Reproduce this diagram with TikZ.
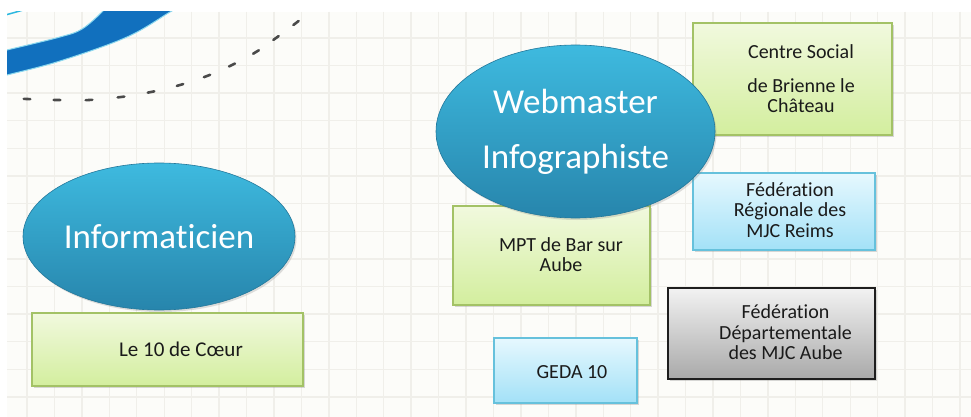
\documentclass[tikz,border=0pt]{standalone}
\usepackage{fontspec}
\setmainfont{Carlito}[Ligatures=NoCommon]
\usetikzlibrary{shapes.geometric,shadows}
\definecolor{bgc}{HTML}{FCFCF9}
\definecolor{gridc}{HTML}{F0EFEA}
\definecolor{bandc}{HTML}{1170BE}
\definecolor{cyanline}{HTML}{2DB8E0}
\definecolor{dashc}{HTML}{4A4A4A}
\definecolor{elltop}{HTML}{3EBADF}
\definecolor{ellbot}{HTML}{2785AC}
\definecolor{gtop}{HTML}{F1F9DE}
\definecolor{gbot}{HTML}{D3EE9E}
\definecolor{gborder}{HTML}{A3C266}
\definecolor{btop}{HTML}{E6F8FE}
\definecolor{bbot}{HTML}{A3E1F7}
\definecolor{bborder}{HTML}{66C1DC}
\definecolor{ytop}{HTML}{F2F2F2}
\definecolor{ybot}{HTML}{A9A9A9}
\definecolor{yborder}{HTML}{1E1E1E}
\definecolor{txtc}{HTML}{1A1A1A}
\tikzset{
  gridline/.style={gridc, line width=1.4pt},
  dashmark/.style={dashc, line width=2.6pt, line cap=round},
  bubble/.style={ellipse, inner sep=0pt, top color=elltop, bottom color=ellbot,
    draw=ellbot!90!black, line width=0.6pt, text=white,
    drop shadow={shadow xshift=1.5pt, shadow yshift=-2pt, opacity=0.25}},
  boxbase/.style={rectangle, inner sep=0pt, line width=1.1pt,
    drop shadow={shadow xshift=2pt, shadow yshift=-2pt, opacity=0.3}},
  greenbox/.style={boxbase, top color=gtop, bottom color=gbot, draw=gborder},
  bluebox/.style={boxbase, top color=btop, bottom color=bbot, draw=bborder},
  greybox/.style={boxbase, top color=ytop, bottom color=ybot, draw=yborder, line width=1.6pt},
  boxtext/.style={inner sep=0pt, align=center, text=txtc, font=\fontsize{20}{20.5}\selectfont},
}
\begin{document}
\begin{tikzpicture}[x=1pt,y=-1pt]
\useasboundingbox (0,0) rectangle (971,417);
\fill[white] (0,0) rectangle (971,417);
\fill[bgc] (7,12) rectangle (971,417);
\foreach \i in {0,...,34} \draw[gridline] ({27+27.44*\i},12) -- ({27+27.44*\i},417);
\foreach \j in {0,...,13} \draw[gridline] (7,{38+27.6*\j}) -- (971,{38+27.6*\j});
\begin{scope}
  \clip (7,12) rectangle (971,417);
  \draw[cyanline, line width=1.5pt] (-5,18) .. controls (5,15) and (15,12.5) .. (30,8);
  \fill[bandc, draw=cyanline!55, line width=1pt]
    plot[smooth, tension=0.6] coordinates {(-5,53) (7,50) (60,37) (82,29) (102,12) (110,2)}
    -- plot[smooth, tension=0.6] coordinates {(188,2) (170,12) (127,37) (60,61) (7,75) (-5,78)} -- cycle;
\end{scope}
\foreach \x/\y/\a in {27/99/2, 57/100/1, 89/100/-3, 121/97/-7, 151/92/-11.5, 180/85/-16, 207/76/-21, 232/65/-26, 256/52/-31.5, 276/38/-36, 296/23/-37}
  \draw[dashmark] (\x,\y) ++(\a:-3.3) -- ++(\a:6.6);
% left part
\node[bubble, minimum width=272, minimum height=147, font=\fontsize{35}{40}\selectfont] (inf) at (159,236.5) {Informaticien};
\node[greenbox, minimum width=271, minimum height=73] (coeur) at (167.5,349.5) {};
\node[boxtext, font=\fontsize{21}{22}\selectfont] (coeurT) at ([xshift=13.5pt]coeur.center) {Le 10 de Cœur};
% right part
\node[greenbox, minimum width=199, minimum height=112] (centre) at (792.5,79) {};
\node[boxtext] (centreT) at ([xshift=8.5pt]centre.center) {Centre Social\\[13pt]de Brienne le\\Château};
\node[bluebox, minimum width=182, minimum height=77] (fedreg) at (784,211.5) {};
\node[boxtext] (fedregT) at ([xshift=6pt,yshift=1.5pt]fedreg.center) {Fédération\\Régionale des\\MJC Reims};
\node[greybox, minimum width=207, minimum height=91] (feddep) at (771.5,333.5) {};
\node[boxtext] (feddepT) at ([xshift=14pt,yshift=1pt]feddep.center) {Fédération\\Départementale\\des MJC Aube};
\node[greenbox, minimum width=197, minimum height=99] (mpt) at (551.5,255.5) {};
\node[boxtext] (mptT) at ([xshift=9.5pt,yshift=1pt]mpt.center) {MPT de Bar sur\\Aube};
\node[bluebox, minimum width=143, minimum height=65] (geda) at (565.5,370.5) {};
\node[boxtext] (gedaT) at ([xshift=6.5pt,yshift=-1.5pt]geda.center) {GEDA 10};
\node[bubble, minimum width=279, minimum height=173, font=\fontsize{35}{55}\selectfont, align=center] (web) at (575.5,131.5) {Webmaster\\Infographiste};
\end{tikzpicture}
\end{document}
